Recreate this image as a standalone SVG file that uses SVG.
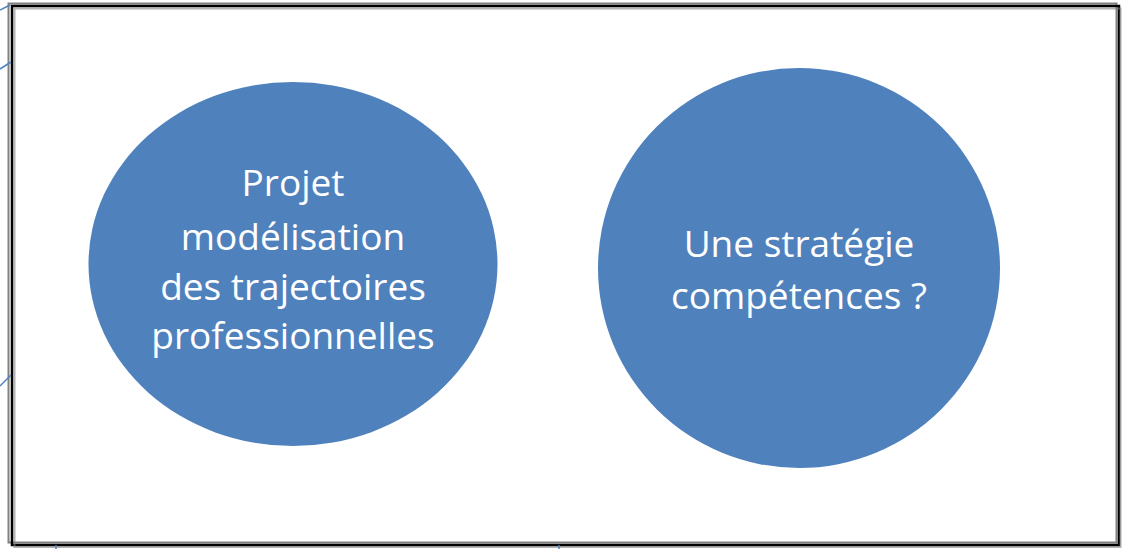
<svg xmlns="http://www.w3.org/2000/svg" width="1124" height="549" viewBox="0 0 1124 549">
<style>
.bubble{fill:#4F81BD;}
.lbl{font-family:"Open Sans","Liberation Sans",sans-serif;font-size:37px;fill:#FFFFFF;text-anchor:middle;}
.frame-g{fill:none;stroke:#808080;stroke-width:2;}
.frame-k{fill:none;stroke:#000000;stroke-width:2.5;}
.conn{fill:none;stroke:#4F81BD;stroke-width:1.5;}
</style>
<rect x="0" y="0" width="1124" height="549" fill="#FFFFFF"/>
<g id="frame">
<rect class="frame-g" x="8.5" y="3.5" width="1108" height="539"/>
<rect class="frame-k" x="12" y="6" width="1107" height="539"/>
<rect class="frame-g" x="14.5" y="8.5" width="1106" height="538.5" stroke-width="1" opacity="0.6"/>
</g>
<g id="connectors">
<line class="conn" x1="0" y1="10" x2="10" y2="5"/>
<line class="conn" x1="0" y1="69" x2="11" y2="62"/>
<line class="conn" x1="0" y1="386" x2="11" y2="375"/>
<line class="conn" x1="56" y1="545" x2="56" y2="549"/>
<line class="conn" x1="559" y1="545" x2="559" y2="549"/>
</g>
<g id="node-projet">
<ellipse class="bubble" cx="293" cy="264" rx="204.5" ry="182"/>
<text class="lbl" x="293" y="196">Projet</text>
<text class="lbl" x="293" y="250">modélisation</text>
<text class="lbl" x="293" y="300">des trajectoires</text>
<text class="lbl" x="293" y="349">professionnelles</text>
</g>
<g id="node-strategie">
<ellipse class="bubble" cx="799" cy="268" rx="201" ry="200"/>
<text class="lbl" x="799" y="257">Une stratégie</text>
<text class="lbl" x="799" y="309">compétences ?</text>
</g>
</svg>
